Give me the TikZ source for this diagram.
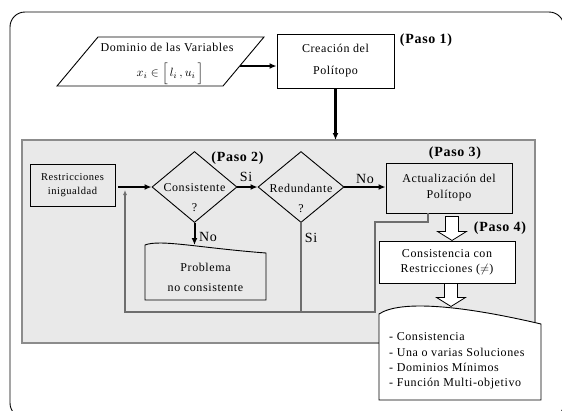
\documentclass[tikz,border=0pt]{standalone}
\usepackage{fontspec}
\setmainfont{Liberation Serif}[LetterSpace=5]
\usetikzlibrary{arrows.meta,shapes.geometric,calc}
\definecolor{panelfill}{HTML}{E9E9E9}
\definecolor{paneledge}{HTML}{8C8C8C}
\definecolor{loopline}{HTML}{6E6E6E}
\newcommand{\fsz}[2]{\fontsize{#1}{#2}\selectfont}
\begin{document}
\begin{tikzpicture}[x=1pt,y=-1pt,
  edge/.style={draw=black,line width=0.9pt},
  rectbox/.style={edge,inner sep=0pt,anchor=center,align=center},
  labeltext/.style={inner sep=0pt,align=center},
  pasolabel/.style={inner sep=0pt,font=\fsz{14}{16}\bfseries},
  branch/.style={inner sep=0pt,font=\fsz{14}{16}},
  flow/.style={line width=2pt,-{Latex[length=7pt,width=6pt]}},
  thinflow/.style={line width=1.6pt,-{Latex[length=7pt,width=6pt]}},
  loop/.style={draw=loopline,line width=1.3pt},
  hollow/.style={draw=black,line width=0.8pt,fill=white},
]
\useasboundingbox (0,0) rectangle (562,410);
\clip (0,0) rectangle (562,410);

% outer frame
\draw[line width=0.9pt,rounded corners=15] (10,12) rectangle (564,418);

% input: variable domains
\coordinate (pTL) at (98,37);
\coordinate (pTR) at (264,37);
\coordinate (pBR) at (223,86);
\coordinate (pBL) at (57,86);
\draw[edge] (pTL) -- (pTR) -- (pBR) -- (pBL) -- cycle;
\node[labeltext,font=\fsz{12}{14}] (dom) at (167,47) {Dominio de las Variables};
\node[labeltext] (domx) at (170,73.5) {\scalebox{1.2}{$x_i \in \Bigl[\,l_i\,,u_i\,\Bigr]$}};
\coordinate (domout) at (240,66);

% step 1
\node[rectbox,minimum width=117,minimum height=54,font=\fsz{12}{22}] (crea) at (335.5,61) {Creación del\\Polítopo};
\node[pasolabel] (p1) at (426,40) {(Paso 1)};
\draw[thinflow] (domout) -- (domout -| crea.west);

% processing panel
\draw[draw=paneledge,fill=panelfill,line width=1.8pt] (22,140) rectangle (535,343);
\coordinate (paneltop) at (336,140);
\draw[line width=2.5pt,-{Latex[length=7pt,width=6pt]}] (crea.south) -- (crea.south |- paneltop);

% constraints input
\node[rectbox,minimum width=85,minimum height=42,font=\fsz{10.5}{14}] (restr) at (72.5,185) {Restricciones\\inigualdad};
\coordinate (jn) at (118,187);

% step 2: decisions
\node[diamond,edge,minimum width=85,minimum height=71,inner sep=0pt] (cons) at (194.5,187) {};
\node[labeltext,font=\fsz{12}{20}] (constext) at (194.5,198) {Consistente\\?};
\node[diamond,edge,minimum width=86,minimum height=71,inner sep=0pt] (redu) at (301,187) {};
\node[labeltext,font=\fsz{12}{20}] (redutext) at (301,198) {Redundante\\?};
\node[pasolabel] (p2) at (237.5,158) {(Paso 2)};

% step 3
\node[rectbox,minimum width=126,minimum height=50,font=\fsz{12}{16}] (actu) at (449,188) {Actualización del\\Polítopo};
\node[pasolabel] (p3) at (455,153) {(Paso 3)};

% inconsistent problem
\coordinate (prTL) at (145,245);
\coordinate (prTR) at (266,253);
\coordinate (prBR) at (266,300);
\coordinate (prBL) at (145,300);
\draw[edge] (prTL) .. controls (160,239) and (200,248) .. (prTR) -- (prBR) -- (prBL) -- cycle;
\node[labeltext,font=\fsz{12}{20}] (prob) at (205.5,277) {Problema\\no consistente};
\coordinate (probin) at (193,245);

% main flow
\draw[flow] (jn) -- (cons.west);
\draw[flow] (cons.east) -- (redu.west);
\draw[flow] (redu.east) -- (actu.west |- redu.east);
\draw[flow] (cons.south) -- (cons.south |- probin);
\node[branch] (siA) at (246,177) {Si};
\node[branch] (noA) at (365,179) {No};
\node[branch] (siB) at (311,238) {Si};
\node[branch] (noB) at (208,237) {No};

% feedback loop
\coordinate (lpA) at (428,222);
\coordinate (lpB) at (375,222);
\coordinate (lpC) at (375,312);
\coordinate (lpD) at (125,312);
\coordinate (lpE) at (125,190);
\draw[loop,-{Latex[length=5pt,width=4pt]}] (actu.south -| lpA) -- (lpA) -- (lpB) -- (lpC) -- (lpD) -- (lpE);
\draw[loop] (redu.south) -- (redu.south |- lpD);

% step 4
\node[rectbox,fill=white,minimum width=136,minimum height=42,font=\fsz{12}{15}] (coher) at (447,262) {Consistencia con\\Restricciones ($\neq$)};
\node[pasolabel] (p4) at (500,228) {(Paso 4)};
\draw[hollow] ($(actu.south)+(-3.5,3)$) -- ++(13,0) -- ++(0,15) -- ++(8,0) -- ++(-14.5,9) -- ++(-14.5,-9) -- ++(8,0) -- cycle;

% results
\draw[edge,fill=white] (379,314) .. controls (400,300) and (460,305) .. (541,324) -- (541,400) -- (379,400) -- cycle;
\node[inner sep=0pt,align=left,anchor=west,font=\fsz{12}{15.3}] (res) at (389,361) {- Consistencia\\- Una o varias Soluciones\\- Dominios Mínimos\\- Función Multi-objetivo};
\draw[hollow] ($(coher.south)+(-2.5,0)$) -- ++(13,0) -- ++(0,14) -- ++(8,0) -- ++(-14.5,9) -- ++(-14.5,-9) -- ++(8,0) -- cycle;
\end{tikzpicture}
\end{document}
